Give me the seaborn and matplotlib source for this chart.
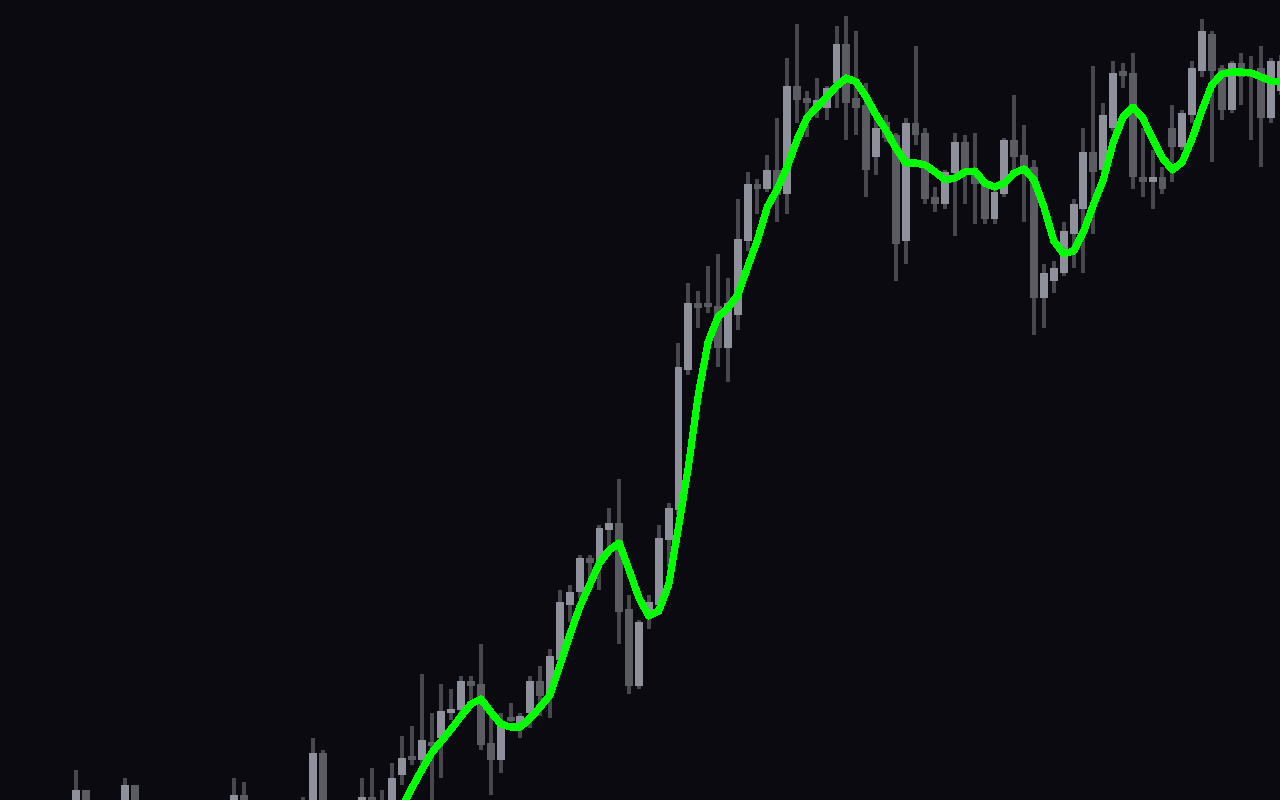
import numpy as np
import pandas as pd
import matplotlib
matplotlib.use("Agg")
import matplotlib.pyplot as plt
import seaborn as sns

# candle slots (one slot per bar); the early bars sit mostly below the window
early_idx = [7, 8, 12, 13, 23, 24, 30, 31, 32, 36, 37, 38, 39]
early_open = [19.5, 21.0, 19.2, 21.5, 19.0, 20.5, 19.5, 19.0, 24.7, 19.2, 20.3, 19.5, 18.8]
early_high = [23.0, 21.0, 22.2, 21.5, 22.2, 21.8, 20.3, 26.2, 25.0, 22.2, 23.2, 21.0, 23.7]
early_low = [18.8, 18.5, 18.5, 18.2, 18.4, 18.5, 18.0, 18.5, 18.5, 18.8, 18.5, 18.8, 18.5]
early_close = [21.0, 19.2, 21.5, 19.0, 20.5, 19.2, 18.7, 24.7, 19.2, 20.3, 19.4, 19.8, 22.2]

# bars 40 .. 129
main_open = [22.5, 24.2, 24.0, 25.8, 26.2, 28.7, 29.0, 31.9, 31.6, 25.7,
             24.0, 28.1, 27.5, 28.7, 31.9, 30.7, 34.0, 39.5, 40.8, 44.2,
             43.7, 47.0, 47.7, 39.1, 31.4, 38.5, 39.5, 46.0, 49.0, 63.0,
             69.7, 69.5, 69.4, 65.2, 68.5, 75.9, 81.6, 81.1, 83.0, 80.6,
             91.4, 90.2, 89.2, 89.2, 91.7, 95.6, 90.2, 89.5, 84.3, 87.8,
             86.5, 75.9, 87.7, 86.7, 80.3, 79.6, 82.7, 85.8, 82.8, 81.7,
             78.1, 80.6, 86.0, 84.5, 83.3, 70.2, 71.9, 72.7, 76.6, 79.1,
             84.8, 83.0, 87.2, 92.7, 92.7, 82.3, 81.8, 82.3, 87.2, 85.3,
             88.5, 92.9, 96.6, 93.2, 89.0, 93.7, 92.7, 93.2, 88.2, 90.9]
main_high = [26.4, 27.4, 32.6, 28.7, 31.6, 31.1, 32.4, 32.4, 35.6, 28.5,
             28.7, 29.7, 28.7, 32.4, 33.4, 35.1, 41.0, 41.5, 44.5, 44.5,
             47.5, 49.2, 52.1, 40.5, 38.0, 40.5, 47.5, 49.7, 65.7, 71.7,
             70.9, 73.4, 74.6, 72.2, 80.1, 82.8, 82.1, 84.5, 88.2, 94.2,
             97.6, 90.9, 92.2, 91.4, 97.4, 98.4, 96.9, 91.7, 88.0, 88.5,
             86.7, 88.2, 95.4, 87.2, 81.3, 83.0, 86.7, 86.5, 86.7, 82.0,
             81.0, 86.2, 90.5, 87.5, 84.0, 73.6, 73.9, 77.8, 80.1, 87.2,
             93.4, 89.7, 93.9, 93.7, 94.7, 87.2, 85.0, 83.3, 89.5, 89.0,
             93.9, 98.1, 96.9, 93.5, 93.9, 94.7, 94.4, 95.4, 94.2, 94.5]
main_low = [21.5, 23.5, 23.5, 19.5, 22.2, 28.0, 28.8, 30.0, 25.0, 20.5,
            22.7, 27.8, 26.2, 27.2, 28.4, 28.2, 33.5, 37.8, 40.2, 41.5,
            41.0, 45.0, 35.6, 30.6, 31.1, 37.1, 38.5, 43.3, 48.5, 62.5,
            67.2, 68.7, 63.3, 61.8, 67.0, 74.9, 78.6, 80.8, 77.8, 78.6,
            87.7, 86.3, 88.2, 88.0, 89.2, 86.0, 86.5, 80.3, 82.5, 85.8,
            71.9, 73.6, 85.5, 79.6, 78.8, 79.1, 76.4, 79.6, 77.6, 77.6,
            77.6, 80.3, 82.7, 77.8, 66.5, 67.2, 70.7, 72.4, 73.2, 72.7,
            76.6, 82.5, 86.9, 91.2, 81.1, 80.3, 79.1, 80.6, 81.8, 85.0,
            87.7, 92.3, 83.8, 88.0, 88.7, 89.5, 86.0, 83.3, 87.7, 90.5]
main_close = [24.2, 24.0, 26.0, 25.4, 28.9, 28.9, 31.9, 31.4, 25.5, 24.0,
              27.7, 27.9, 28.4, 31.9, 30.4, 34.4, 39.8, 40.8, 44.2, 43.7,
              47.2, 47.7, 38.8, 31.4, 37.8, 39.8, 46.2, 49.2, 63.3, 69.7,
              69.2, 69.3, 65.2, 69.7, 76.1, 81.6, 81.1, 83.0, 80.5, 91.4,
              90.0, 89.7, 90.0, 91.2, 95.6, 89.7, 89.2, 83.0, 87.2, 86.2,
              75.6, 87.7, 86.5, 80.1, 79.6, 82.8, 85.8, 83.0, 81.6, 78.1,
              80.8, 86.0, 84.3, 83.0, 70.2, 72.7, 73.2, 76.9, 79.6, 84.8,
              82.8, 88.5, 92.7, 92.4, 82.3, 81.8, 82.3, 81.1, 85.3, 88.7,
              93.2, 96.9, 92.9, 89.0, 93.7, 92.3, 92.3, 88.2, 93.9, 93.9]

# smoothed average line, bars 39 .. 129
ma_values = [17.0, 19.2, 21.2, 23.0, 24.7, 25.9, 27.1, 28.4, 29.6, 30.1,
             28.8, 27.6, 27.3, 27.3, 28.2, 29.3, 30.5, 33.5, 36.5, 39.3,
             41.5, 43.7, 45.0, 45.7, 43.0, 40.2, 38.4, 38.9, 41.5, 47.3,
             53.3, 60.5, 65.8, 68.3, 69.2, 70.5, 73.3, 76.0, 79.3, 81.1,
             83.3, 86.0, 88.2, 89.3, 90.3, 91.4, 92.2, 91.8, 90.3, 88.5,
             87.0, 85.2, 83.7, 83.7, 83.5, 82.8, 82.0, 82.2, 82.8, 82.9,
             81.7, 81.3, 81.7, 82.7, 83.1, 82.0, 79.3, 75.9, 74.6, 74.9,
             76.8, 79.5, 82.0, 85.7, 88.3, 89.3, 88.2, 86.1, 84.2, 83.0,
             83.8, 86.1, 89.0, 91.5, 92.6, 92.8, 92.8, 92.7, 92.3, 91.9,
             91.8]

df = pd.DataFrame({
    "bar": early_idx + list(range(40, 130)),
    "open": early_open + main_open,
    "high": early_high + main_high,
    "low": early_low + main_low,
    "close": early_close + main_close,
})
df["up"] = df["close"] >= df["open"]
ma = pd.DataFrame({"bar": list(range(39, 130)), "ma": ma_values})

bg = "#0a0a10"
up_col = "#8e909c"
down_col = "#5b5c61"
wick_col = "#47474d"

sns.set_theme(style="dark", rc={"axes.facecolor": bg, "figure.facecolor": bg})

fig = plt.figure(figsize=(12.8, 8), dpi=100)
ax = fig.add_axes([0, 0, 1, 1])
ax.set_facecolor(bg)

# wicks
ax.vlines(df["bar"], df["low"], df["high"], color=wick_col, linewidth=1.45,
          antialiased=False, zorder=1)

# bodies
body_lo = np.minimum(df["open"], df["close"])
body_h = (df["close"] - df["open"]).abs().clip(lower=0.45)
colors = np.where(df["up"], up_col, down_col)
ax.bar(df["bar"], body_h, bottom=body_lo, width=0.8, color=colors, linewidth=0,
       antialiased=False, zorder=2)

sns.lineplot(data=ma, x="bar", y="ma", color="#00ff00", linewidth=4.4, ax=ax,
             antialiased=False, zorder=3)

ax.set_xlim(-0.69, 128.9)
ax.set_ylim(20, 100)
ax.set_axis_off()

fig.savefig("out.png", dpi=100, facecolor=bg)
